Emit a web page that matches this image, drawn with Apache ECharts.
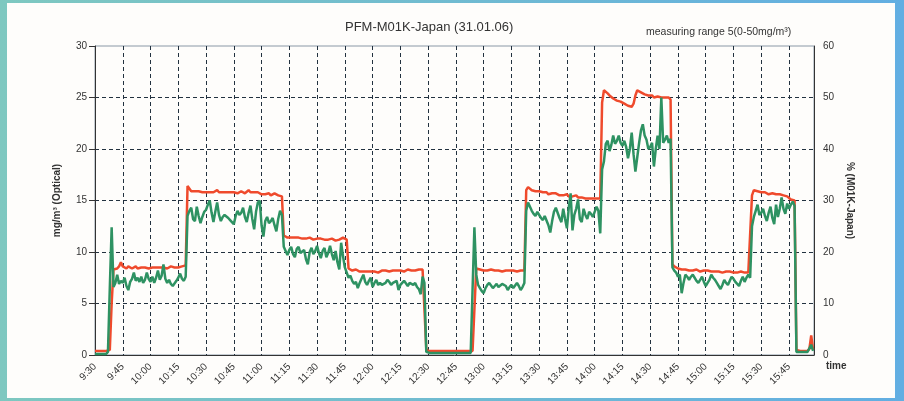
<!DOCTYPE html>
<html>
<head>
<meta charset="utf-8">
<script src="https://cdn.jsdelivr.net/npm/echarts@6/dist/echarts.min.js"></script>
<style>
html,body{margin:0;padding:0;}
#chart{width:904px;height:401px;}
</style>
</head>
<body>
<div id="chart"></div>
<script>
// Chart text
const chartTitle = 'PFM-M01K-Japan (31.01.06)';
const rangeNote = 'measuring range 5(0-50mg/m³)';
const leftAxisName = 'mg/m³ (Optical)';
const rightAxisName = '% (M01K-Japan)';
const xAxisName = 'time';

// Time: one reading per minute, starting at 9:30 (minutes since midnight)
const startMinute = 570;
const minuteStep = 1;

// Optical reading (mg/m³), red line, one value per minute from 9:30
const redValues = [
 0.4,0.4,0.4,0.4,0.4,0.4,0.4,0.4,0.5,5.0,
 8.3,8.2,8.4,8.6,9.0,8.6,8.5,8.4,8.6,8.5, 8.4,8.5,8.6,8.4,8.5,8.5,8.4,8.5,8.6,8.4,
 8.5,8.5,8.4,8.5,8.6,8.5,8.4,8.5,8.5,8.4, 8.5,8.6,8.5,8.5,8.4,8.5,8.6,8.6,8.6,8.7,
 16.4,16.3,15.9,15.8,15.9,15.8,15.9,16.0,15.8,15.9,
 15.8,15.7,15.8,15.9,15.8,15.7,16.0,15.8,15.7,15.8,
 15.9,15.8,15.7,15.8,15.9,15.8,15.8,15.7,15.8,15.9,
 15.8,15.7,15.8,16.0,15.8,15.7,15.8,15.9,15.8,15.7,
 15.6,15.7,15.6,15.6,15.7,15.5,15.6,15.7,15.6,15.5,
 15.6,15.4,
 11.6,11.5,11.4,11.5,11.4,11.5,11.4,11.3,11.4,11.4,
 11.3,11.4,11.3,11.3,11.4,11.3,11.2,11.3,11.3,11.2,
 11.3,11.3,11.2,11.3,11.2,11.2,11.3,11.2,11.1,11.2,
 11.2,11.3,11.4,11.3,11.2,
 8.4,8.3,8.2,8.2,8.3,8.2,8.1,8.2,8.1,8.2,
 8.1,8.0,8.1,8.2,8.1,8.1,8.0,8.1,8.2,8.1,
 8.2,8.2,8.1,8.2,8.2,8.1,8.2,8.1,8.2,8.2,
 8.1,8.2,8.3,8.2,8.2,8.1,8.2,8.2,8.3,8.2,
 8.3,8.2,
 0.6,0.4,0.4,0.4,0.4,0.4,0.4,0.4,0.4,0.4, 0.4,0.4,0.4,0.4,0.4,0.4,0.4,0.4,0.4,0.4,
 0.4,0.4,0.4,0.4,0.4,0.4,
 0.5,8.4,
 8.4,8.3,8.3,8.2,8.3,8.2,8.2,8.3,8.2,8.2, 8.1,8.2,8.2,8.1,8.2,8.2,8.1,8.2,8.1,8.2,
 8.2,8.1,8.2,8.2,8.1,8.2,
 16.0,16.3,16.2,16.0,15.9,15.9,15.8,15.9,15.8,15.8,
 15.7,15.8,15.6,15.7,15.7,15.6,15.7,15.6,15.5,15.6,
 15.5,15.5,15.6,15.4,15.5,15.4,15.4,15.5,15.3,15.4,
 15.3,15.3,15.2,15.3,15.2,15.2,15.2,15.1,15.2,15.1,
 15.2,
 24.5,25.7,25.6,25.4,25.2,25.1,24.9,24.8,24.7,24.8,
 24.6,24.5,24.4,24.4,24.2,24.1,24.1,24.4,25.2,25.7,
 25.6,25.5,25.5,25.3,25.3,25.2,25.1,25.2,25.0,25.0,
 25.1,25.0,25.0,25.1,25.0,24.9,25.0,24.8,
 8.8,8.6,8.5,8.4,8.4,8.3,8.4,8.3,8.3,8.2,
 8.3,8.2,8.2,8.3,8.2,8.1,8.2,8.2,8.1,8.2,
 8.1,8.1,8.2,8.1,8.0,8.1,8.1,8.0,8.1,8.1,
 8.0,8.1,8.0,8.0,8.1,8.0,8.0,8.1,8.0,8.0,
 7.9,8.0,8.1,
 15.5,16.0,16.0,15.9,15.8,15.8,15.7,15.8,15.7,15.6,
 15.6,15.7,15.6,15.6,15.5,15.6,15.5,15.5,15.4,15.4,
 15.3,15.1,15.0,15.0,
 0.5,0.4,0.4,0.4,0.4,0.4,0.4,0.6,1.9,0.5
];

// M01K-Japan reading, green line (same scale: 0-30 left = 0-60 % right)
const greenValues = [
 0.1,0.1,0.1,0.1,0.1,0.1,0.1,0.3,6.5,12.4,
 6.6,7.0,7.8,6.9,7.2,7.0,7.5,6.7,6.3,7.1, 7.4,8.0,7.2,7.5,7.1,7.6,7.0,7.3,8.0,7.4,
 7.1,7.6,7.0,7.5,8.2,7.3,7.7,8.8,7.4,7.0, 7.3,6.9,6.7,6.8,7.2,7.5,7.9,7.4,7.2,7.6,
 13.5,14.0,14.3,13.2,13.0,14.4,13.5,12.8,13.4,13.9,
 14.1,14.6,15.0,13.8,12.9,13.9,14.8,13.6,13.0,13.4,
 13.6,13.5,13.3,13.1,12.9,12.7,13.5,14.0,13.6,13.8,
 14.3,13.4,12.9,13.8,14.5,13.2,12.2,13.9,14.8,15.0,
 12.6,11.5,13.0,13.4,12.8,13.0,13.3,12.6,12.0,13.2,
 14.0,13.6,
 10.5,10.1,9.7,10.2,10.5,9.8,9.5,10.3,10.5,9.9,
 10.0,10.2,9.3,8.8,10.0,10.4,9.8,10.1,10.6,9.9,
 9.4,10.1,10.4,9.5,9.9,10.6,9.8,9.2,10.1,9.0,
 8.3,10.9,9.6,8.5,8.4,
 7.5,7.7,7.2,6.9,7.1,6.5,7.0,7.4,7.8,7.1,
 6.8,7.2,7.5,6.6,7.0,7.3,6.8,7.0,6.8,6.7,
 7.0,7.3,7.1,6.8,7.0,6.9,7.2,6.3,6.8,6.9,
 7.2,7.1,6.7,7.0,6.9,6.8,7.0,6.6,6.4,5.9,
 7.6,7.0,
 0.3,0.2,0.2,0.2,0.2,0.2,0.2,0.2,0.2,0.2, 0.2,0.2,0.2,0.2,0.2,0.2,0.2,0.2,0.2,0.2,
 0.2,0.2,0.2,0.2,0.2,0.2,
 12.4,7.8,
 6.8,6.5,6.2,6.0,6.5,6.8,7.0,6.9,6.5,6.7, 6.9,6.6,6.5,6.9,7.0,6.7,6.3,6.6,6.8,6.5,
 6.6,7.0,6.7,6.3,6.6,7.0,
 14.0,14.8,14.7,14.0,13.7,13.5,13.9,13.8,13.3,13.1,
 13.5,13.6,12.6,11.9,13.0,13.9,14.3,14.4,13.3,12.9,
 14.2,13.2,12.3,14.3,15.7,12.1,13.6,14.2,15.1,13.2,
 12.9,14.2,13.6,13.2,13.9,13.7,13.4,13.9,14.4,14.0,
 11.8,
 18.0,18.8,20.5,20.8,19.8,20.4,21.3,20.5,20.8,21.3,
 20.6,20.3,20.8,20.2,19.1,20.0,21.6,19.5,17.8,19.2,
 20.6,21.8,22.4,21.3,20.9,20.0,20.2,20.6,18.3,20.0,
 21.3,20.0,25.0,20.6,20.9,21.3,20.6,21.0,
 8.5,8.2,8.0,7.6,7.8,6.0,7.0,7.8,7.6,7.3,
 7.6,7.8,7.5,7.2,7.0,7.3,7.6,7.1,6.7,7.0,
 7.3,7.8,7.5,7.3,7.0,6.7,6.4,6.8,7.3,7.0,
 6.8,7.2,7.6,7.4,7.1,6.9,6.7,7.2,7.6,7.1,
 7.5,7.8,7.5,
 12.5,13.4,14.0,14.6,13.6,13.8,14.2,13.5,13.0,13.8,
 14.4,13.3,12.7,14.6,13.4,14.2,15.3,14.2,13.7,14.7,
 14.2,14.6,14.9,14.5,
 0.3,0.3,0.3,0.3,0.3,0.3,0.3,0.4,1.0,0.4
];

// Axis ranges / ticks
const xMin = 0, xMax = 388.5, xInterval = 15;
const leftMin = 0, leftMax = 30, leftInterval = 5;
const rightMin = 0, rightMax = 60, rightInterval = 10;

function fmtTime(m) {
  const total = startMinute + m;
  const h = Math.floor(total / 60);
  const mm = total % 60;
  return h + ':' + (mm < 10 ? '0' + mm : mm);
}

const redData = redValues.map((v, i) => [i * minuteStep, v]);
const greenData = greenValues.map((v, i) => [i * minuteStep, v]);

const font = "'Liberation Sans', Arial, sans-serif";
const txt = '#333';
const gridDash = { type: [4, 3], color: '#22313f', width: 1 };

const chart = echarts.init(document.getElementById('chart'), null, { renderer: 'canvas' });
chart.setOption({
  animation: false,
  backgroundColor: {
    type: 'linear', x: 0, y: 0, x2: 1, y2: 0,
    colorStops: [{ offset: 0, color: '#7ec8c0' }, { offset: 1, color: '#62aee2' }]
  },
  textStyle: { fontFamily: font },
  graphic: [{
    type: 'rect', z: -100, silent: true,
    shape: { x: 7, y: 3, width: 888, height: 395 },
    style: { fill: '#fefdfb' }
  }],
  title: [
    { text: chartTitle, left: 340, top: 16,
      textStyle: { fontSize: 13, fontWeight: 'normal', color: txt, fontFamily: font } },
    { text: rangeNote, left: 641, top: 22,
      textStyle: { fontSize: 10.5, fontWeight: 'normal', color: txt, fontFamily: font } }
  ],
  grid: { left: 95, right: 90, top: 46, bottom: 46, show: true, borderColor: '#8a98a6', borderWidth: 1, backgroundColor: 'transparent' },
  xAxis: {
    type: 'value', min: xMin, max: xMax, interval: xInterval,
    axisLine: { show: true, lineStyle: { color: '#333', width: 1 } },
    axisTick: { show: false },
    axisLabel: { rotate: 45, fontSize: 10, color: txt, margin: 10, showMaxLabel: false,
      formatter: v => fmtTime(v) },
    splitLine: { show: true, showMinLine: false, lineStyle: gridDash },
    name: xAxisName, nameLocation: 'end', nameGap: 12,
    nameTextStyle: { fontWeight: 'bold', fontSize: 10, color: txt, verticalAlign: 'top', padding: [6, 0, 0, 0] }
  },
  yAxis: [{
    type: 'value', min: leftMin, max: leftMax, interval: leftInterval,
    axisLine: { show: true, lineStyle: { color: '#333', width: 1 } },
    axisTick: { show: true, length: 6, lineStyle: { color: '#333' } },
    axisLabel: { fontSize: 10, color: txt, margin: 8 },
    splitLine: { show: true, showMinLine: false, showMaxLine: false, lineStyle: gridDash },
    name: leftAxisName, nameLocation: 'middle', nameGap: 33, nameRotate: 90,
    nameTextStyle: { fontWeight: 'bold', fontSize: 10, color: txt }
  }, {
    type: 'value', min: rightMin, max: rightMax, interval: rightInterval, position: 'right',
    axisLine: { show: true, lineStyle: { color: '#333', width: 1 } },
    axisTick: { show: false },
    axisLabel: { fontSize: 10, color: txt, margin: 9 },
    splitLine: { show: false },
    name: rightAxisName, nameLocation: 'middle', nameGap: 25, nameRotate: -90,
    nameTextStyle: { fontWeight: 'bold', fontSize: 10, color: txt }
  }],
  series: [{
    type: 'line', yAxisIndex: 0, data: redData, showSymbol: false,
    lineStyle: { color: '#ef4a2c', width: 2.5 }, itemStyle: { color: '#ef4a2c' }
  }, {
    type: 'line', yAxisIndex: 0, data: greenData, showSymbol: false,
    lineStyle: { color: '#2e9262', width: 2.5 }, itemStyle: { color: '#2e9262' }
  }]
});
</script>
</body>
</html>
